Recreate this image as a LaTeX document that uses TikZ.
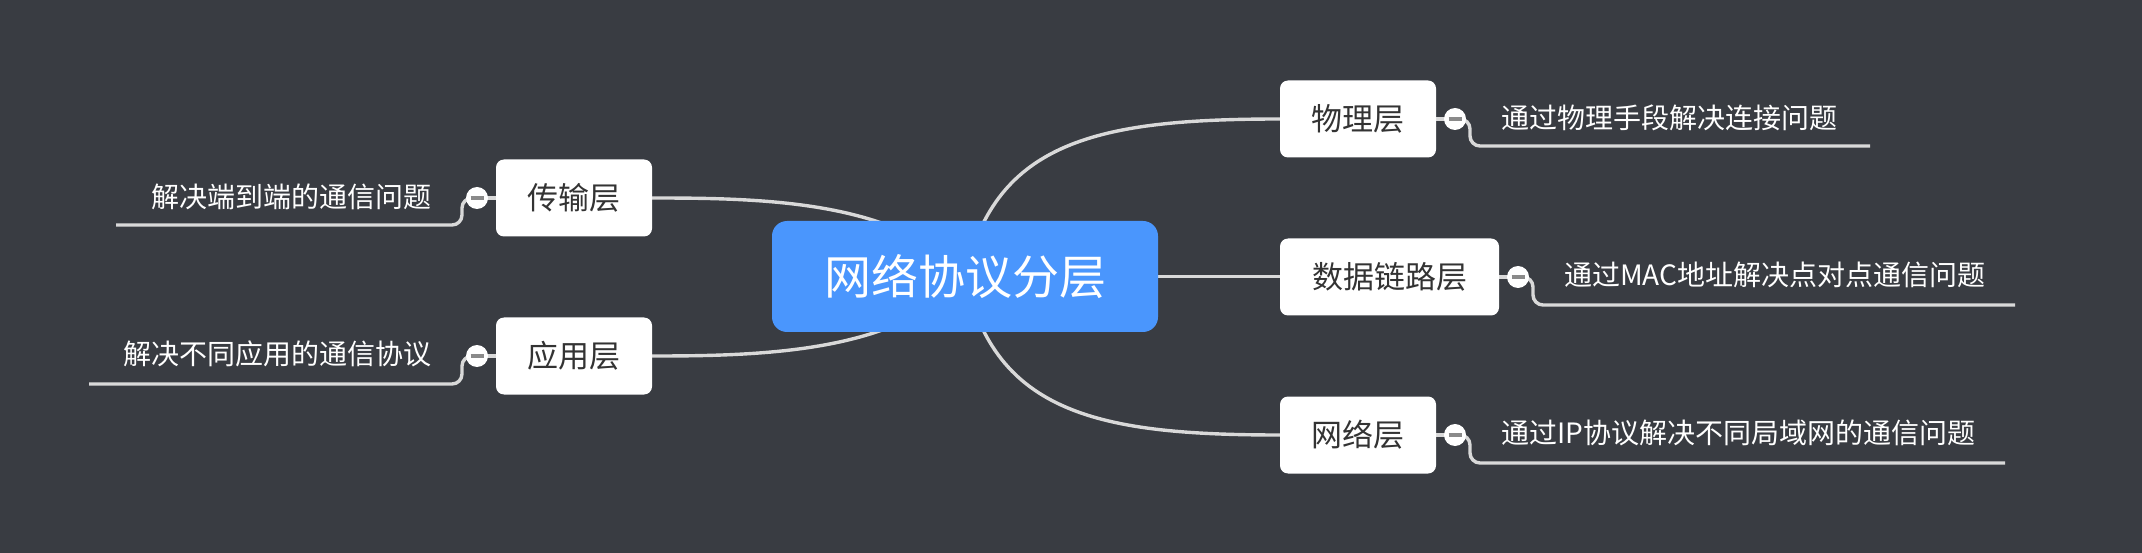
\documentclass[tikz,border=0pt]{standalone}
\usepackage{fontspec}
\setmainfont{Noto Sans CJK SC}
\definecolor{bgc}{HTML}{393C42}
\definecolor{rootc}{HTML}{4A96FD}
\definecolor{linec}{HTML}{D9D9D9}
\definecolor{txtc}{HTML}{333333}
\definecolor{minusc}{HTML}{8A8A8A}
\pgfdeclarelayer{background}
\pgfsetlayers{background,main}
\tikzset{
  rootbox/.style={fill=rootc, rounded corners=15pt, minimum width=386pt, minimum height=111pt, inner sep=0pt, text=white, font=\fontsize{47}{56}\selectfont},
  topicbox/.style={fill=white, rounded corners=8pt, minimum width=156pt, minimum height=77pt, inner sep=0pt, text=txtc, font=\fontsize{31}{37}\selectfont},
  foldc/.style={circle, fill=white, minimum size=22pt, inner sep=0pt},
  minusbar/.style={draw=minusc, line width=3.5pt},
  conn/.style={draw=linec, line width=3.4pt},
  subline/.style={draw=linec, line width=3.4pt, rounded corners=10pt},
  sublabel/.style={text=white, inner sep=0pt, font=\fontsize{28}{34}\selectfont}
}
\begin{document}
\begin{tikzpicture}[x=1pt,y=-1pt]
\useasboundingbox (0,0) rectangle (2142,553);
% nodes
\node[rootbox] (root) at (965,276.5) {网络协议分层};
\node[topicbox] (wl) at (1358,119) {物理层};
\node[topicbox, minimum width=219pt] (sj) at (1389.5,277) {数据链路层};
\node[topicbox] (wn) at (1358,435) {网络层};
\node[topicbox] (cs) at (574,198) {传输层};
\node[topicbox] (yy) at (574,356) {应用层};
% fold circles
\node[foldc] (f1) at (1455,119) {};
\node[foldc] (f2) at (1518,277) {};
\node[foldc] (f3) at (1455,435) {};
\node[foldc] (f4) at (477,198) {};
\node[foldc] (f5) at (477,356) {};
\foreach \f in {f1,f2,f3,f4,f5}{
  \draw[minusbar] ([xshift=-6.5pt]\f.center) -- ([xshift=6.5pt]\f.center);
}
% labels
\node[sublabel, anchor=west] (l1) at (1501,118) {通过物理手段解决连接问题};
\node[sublabel, anchor=west] (l2) at (1564,275) {通过MAC地址解决点对点通信问题};
\node[sublabel, anchor=west] (l3) at (1501,433) {通过IP协议解决不同局域网的通信问题};
\node[sublabel, anchor=east] (l4) at (432,197) {解决端到端的通信问题};
\node[sublabel, anchor=east] (l5) at (432,354) {解决不同应用的通信协议};
% underline ends
\coordinate (e1) at (1870,146);
\coordinate (e2) at (2015,305);
\coordinate (e3) at (2005,463);
\coordinate (e4) at (116,225);
\coordinate (e5) at (89,384);
\begin{pgfonlayer}{background}
\fill[bgc] (0,0) rectangle (2142,553);
\draw[conn] (root.center) .. controls (995,140) and (1100,119) .. (wl.west);
\draw[conn] (root.center) .. controls (995,414) and (1100,435) .. (wn.west);
\draw[conn] (root.center) -- (root.center -| sj.west);
\draw[conn] (root.center) .. controls (900,200) and (760,198) .. (cs.east);
\draw[conn] (root.center) .. controls (900,353) and (760,356) .. (yy.east);
\draw[conn] (wl.east) -- (f1.center);
\draw[conn] (sj.east) -- (f2.center);
\draw[conn] (wn.east) -- (f3.center);
\draw[conn] (cs.west) -- (f4.center);
\draw[conn] (yy.west) -- (f5.center);
\draw[subline] (f1.center) -- (1470,119) -- (1470,146) -- (e1);
\draw[subline] (f2.center) -- (1533,277) -- (1533,305) -- (e2);
\draw[subline] (f3.center) -- (1470,435) -- (1470,463) -- (e3);
\draw[subline] (f4.center) -- (462,198) -- (462,225) -- (e4);
\draw[subline] (f5.center) -- (462,356) -- (462,384) -- (e5);
\end{pgfonlayer}
\end{tikzpicture}
\end{document}
